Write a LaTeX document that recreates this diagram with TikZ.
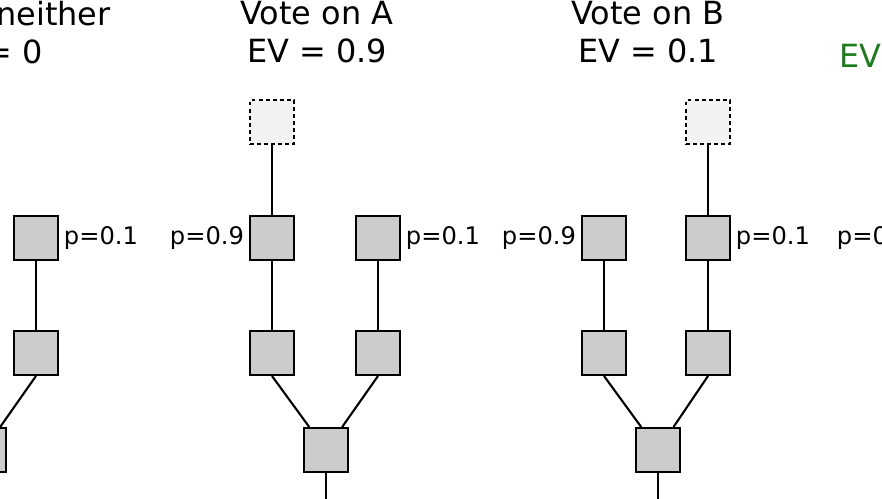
\documentclass[tikz,border=0pt]{standalone}
\usepackage{fontspec}
\setmainfont{DejaVu Sans}
\usepackage{xcolor}
\usepackage{tikz}
\usetikzlibrary{calc}
\definecolor{evgreen}{RGB}{25,125,25}
\tikzset{
  box/.style={draw, line width=1.4pt, fill=black!20, minimum size=1.1cm, inner sep=0pt},
  ghost/.style={draw, line width=1pt, dash pattern=on 2.8pt off 2.2pt, fill=black!5, minimum size=1.1cm, inner sep=0pt},
  plabel/.style={font=\fontsize{17.2}{20}\selectfont},
  title/.style={font=\fontsize{22.7}{27}\selectfont, align=center, anchor=north, inner sep=0pt},
  link/.style={line width=1.5pt}
}

\begin{document}
\begin{tikzpicture}
		\useasboundingbox (0,0) rectangle (22.05,-12.475);
		\clip (0,0) rectangle (22.05,-12.475);
		% vote on neither
		\node[title] (n-title) at (-0.3,-0.03) {Vote on neither\\EV = 0};
		\node[box] (n1) at (0.9,-5.95) {};
		\node[box] (n2) at (0.9,-8.825) {};
		\node[box] (nb) at (-0.4,-11.25) {};
		\draw[link] (n1.south) -- (n2.north);
		\draw[link] (n2.south) -- (nb);
		\node[plabel, anchor=west] (n1-p) at (n1.east) {p=0.1};
		% vote on A
		\node[title] (a-title) at (7.925,-0.03) {Vote on A\\EV = 0.9};
		\node[ghost] (a0) at (6.8,-3.05) {};
		\node[box] (a1) at (6.8,-5.95) {};
		\node[box] (a2) at (6.8,-8.825) {};
		\node[box] (a3) at (9.45,-5.95) {};
		\node[box] (a4) at (9.45,-8.825) {};
		\node[box] (ab) at (8.15,-11.25) {};
		\coordinate (ab-end) at (8.15,-13);
		\draw[link] (a0.south) -- (a1.north);
		\draw[link] (a1.south) -- (a2.north);
		\draw[link] (a3.south) -- (a4.north);
		\draw[link] (a2.south) -- (ab);
		\draw[link] (a4.south) -- (ab);
		\draw[link] (ab.south) -- (ab-end);
		\node[plabel, anchor=east] (a1-p) at (a1.west) {p=0.9};
		\node[plabel, anchor=west] (a3-p) at (a3.east) {p=0.1};
		% vote on B
		\node[title] (b-title) at (16.2,-0.03) {Vote on B\\EV = 0.1};
		\node[ghost] (b0) at (17.7,-3.05) {};
		\node[box] (b1) at (15.1,-5.95) {};
		\node[box] (b2) at (15.1,-8.825) {};
		\node[box] (b3) at (17.7,-5.95) {};
		\node[box] (b4) at (17.7,-8.825) {};
		\node[box] (bb) at (16.45,-11.25) {};
		\coordinate (bb-end) at (16.45,-13);
		\draw[link] (b0.south) -- (b3.north);
		\draw[link] (b1.south) -- (b2.north);
		\draw[link] (b3.south) -- (b4.north);
		\draw[link] (b2.south) -- (bb);
		\draw[link] (b4.south) -- (bb);
		\draw[link] (bb.south) -- (bb-end);
		\node[plabel, anchor=east] (b1-p) at (b1.west) {p=0.9};
		\node[plabel, anchor=west] (b3-p) at (b3.east) {p=0.1};
		% next strategy
		\node[font=\fontsize{22.7}{27}\selectfont, text=evgreen, anchor=base west, inner sep=0pt] (c-title) at (20.98,-1.7) {EV = 0.9};
		\coordinate (c1) at (22.9,-5.95);
		\node[plabel, anchor=east] (c1-p) at (c1) {p=0.9};
\end{tikzpicture}
\end{document}
